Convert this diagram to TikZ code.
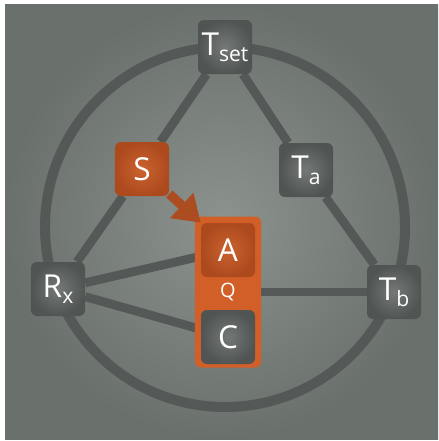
\documentclass[tikz,border=0pt]{standalone}
\usepackage{fontspec}
\setmainfont{Open Sans}
\usetikzlibrary{arrows.meta}
\usetikzlibrary{backgrounds}
\newcommand{\boxsize}{1.62cm}
\newcommand{\lowtxt}[1]{\raisebox{-5pt}{\fontsize{18}{18}\selectfont #1}}

\definecolor{bgin}{RGB}{140,146,141}
\definecolor{bgout}{RGB}{106,112,108}
\definecolor{linegray}{RGB}{84,89,87}
\definecolor{nodein}{RGB}{116,121,119}
\definecolor{nodeout}{RGB}{80,84,83}
\definecolor{qorange}{RGB}{211,95,40}
\definecolor{sin}{RGB}{204,98,46}
\definecolor{sout}{RGB}{172,74,30}
\definecolor{arroworange}{RGB}{172,76,33}

\begin{document}
\begin{tikzpicture}[x=0.03cm,y=-0.03cm,
    graybox/.style={shading=radial,inner color=nodein,outer color=nodeout},
    orangebox/.style={shading=radial,inner color=sin,outer color=sout}]
                \useasboundingbox (0,0) rectangle (438,441);
                \begin{scope}[every node/.style={rounded corners=5pt,inner sep=0pt,minimum size=\boxsize,text=white,font=\fontsize{27}{27}\selectfont}]
                    \node[graybox] (tset) at (225,47) {T\lowtxt{set}};
                    \node[orangebox] (s) at (142,169) {S};
                    \node[graybox] (ta) at (306,170) {T\lowtxt{a}};
                    \node[graybox] (rx) at (58,289) {R\lowtxt{x}};
                    \node[graybox] (tb) at (394,292) {T\lowtxt{b}};
                    \node[fill=qorange,minimum width=1.98cm,minimum height=4.53cm,font=\fontsize{17}{17}\selectfont] (q) at (228,292) {Q};
                    \node[orangebox] (a) at (228,250) {A};
                    \node[graybox] (c) at (228,337) {C};
                \end{scope}

                \begin{scope}[on background layer,
                    every edge/.style={draw=linegray,line width=7.5pt}]
                    \shade[inner color=bgin,outer color=bgout] (5,4) rectangle (438,439);
                    \draw[linegray,line width=8.5pt] (225,227) circle (180);
                    \path (tset) edge (s);
                    \path (tset) edge (ta);
                    \path (ta) edge (tb);
                    \path (s) edge (rx);

                    \path (rx) edge (a);
                    \path (rx) edge (c);
                    \path (q) edge (tb);
                \end{scope}

                \draw[-{Triangle[length=22pt,width=28pt]},line width=8pt,arroworange] (s) -- (a.north west);
            \end{tikzpicture}
\end{document}
